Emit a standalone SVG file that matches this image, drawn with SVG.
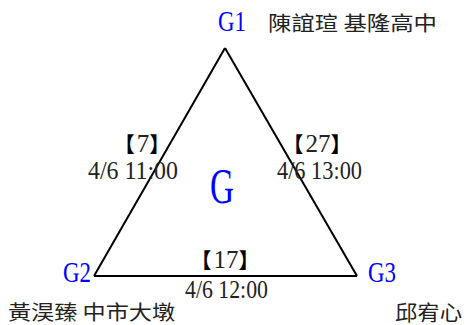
<svg xmlns="http://www.w3.org/2000/svg" width="466" height="325" viewBox="0 0 466 325">
<style>
.lat{font-family:"Liberation Serif","Noto Sans CJK TC",serif;fill:#222}
.br{font-family:"Noto Sans CJK TC",sans-serif;font-weight:bold;fill:#000;font-size:21px}
.blue{font-family:"Liberation Serif",serif;fill:#0000ff}
.cjk{font-family:"Noto Sans CJK TC","Liberation Sans",sans-serif;fill:#222}
.edge{fill:none;stroke:#000;stroke-width:2}
</style>
<rect width="466" height="325" fill="#fff"/>
<g id="connectors">
<path class="edge" d="M225,48 L94,276"/>
<path class="edge" d="M225,48 L357,276"/>
<path class="edge" d="M94,276 L357,276"/>
</g>
<g id="G1">
<text class="blue" x="218" y="31" font-size="30" textLength="28" lengthAdjust="spacingAndGlyphs">G1</text>
<text class="cjk" x="268" y="31" font-size="20" textLength="169" lengthAdjust="spacingAndGlyphs">陳誼瑄 基隆高中</text>
</g>
<g id="G2">
<text class="blue" x="63" y="282" font-size="29" textLength="28" lengthAdjust="spacingAndGlyphs">G2</text>
<text class="cjk" x="8" y="320" font-size="20" textLength="167" lengthAdjust="spacingAndGlyphs">黃淏臻 中市大墩</text>
</g>
<g id="G3">
<text class="blue" x="368" y="282" font-size="29" textLength="28" lengthAdjust="spacingAndGlyphs">G3</text>
<text class="cjk" x="395" y="320" font-size="21" textLength="67" lengthAdjust="spacingAndGlyphs">邱宥心</text>
</g>
<g id="G">
<text class="blue" x="210" y="203" font-size="50" textLength="24" lengthAdjust="spacingAndGlyphs">G</text>
</g>
<g id="labels">
<text x="142" y="152" text-anchor="middle"><tspan class="br">【</tspan><tspan class="lat" font-size="25" dx="2">7</tspan><tspan class="br">】</tspan></text>
<text class="lat" x="88" y="179" font-size="25" textLength="90" lengthAdjust="spacingAndGlyphs">4/6 11:00</text>
<text x="317" y="152" text-anchor="middle"><tspan class="br">【</tspan><tspan class="lat" font-size="25" dx="2">27</tspan><tspan class="br">】</tspan></text>
<text class="lat" x="277" y="179" font-size="25" textLength="85" lengthAdjust="spacingAndGlyphs">4/6 13:00</text>
<text x="225" y="268" text-anchor="middle"><tspan class="br">【</tspan><tspan class="lat" font-size="25" dx="2">17</tspan><tspan class="br">】</tspan></text>
<text class="lat" x="185" y="298" font-size="25" textLength="83" lengthAdjust="spacingAndGlyphs">4/6 12:00</text>
</g>
</svg>
